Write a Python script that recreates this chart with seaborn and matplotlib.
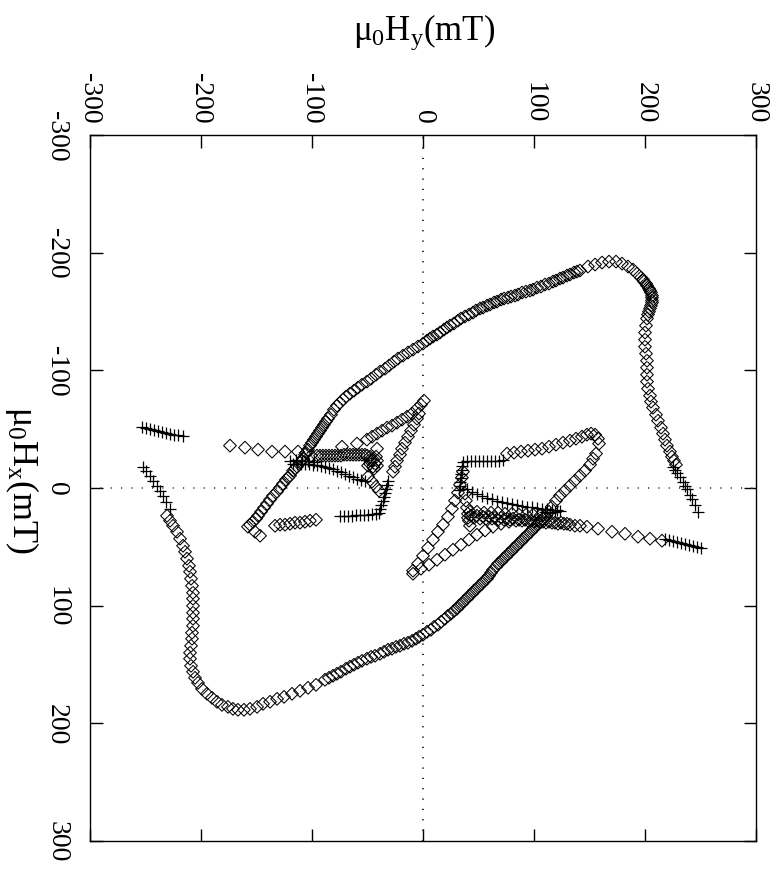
import matplotlib
matplotlib.use("Agg")
import matplotlib.pyplot as plt
import numpy as np
import pandas as pd
import seaborn as sns

# ---------------- data (mT): Hy = horizontal (top axis), Hx = vertical (left axis) --------------
# large upper arc (diamonds)
arc_up_hy = [-157.7,-155.9,-153.2,-150.4,-148.6,-145.9,-143.2,-140.5,-137.8,-135.1,
             -131.5,-128.8,-126.1,-123.4,-119.8,-117.1,-113.5,-110.8,-108.1,-105.4,
             -101.8,-98.2,-94.6,-91.0,-87.4,-82.9,-77.5,-72.1,-65.8,-58.6,
             -50.5,-42.3,-34.2,-26.1,-18.0,-9.0,0.0,6.3,12.6,18.9,
             24.3,31.5,37.8,45.0,51.4,57.7,64.0,70.3,76.6,82.9,
             89.2,96.4,102.7,109.9,117.1,123.4,129.7,136.0,141.4,
             148.6,155.0,161.3,167.6,173.9,179.3,184.7,189.2,192.8,196.4,199.1,201.8,204.5,206.3,206.3,205.4,203.6,201.8,
             200.9,200.0,200.0,200.0,200.9,201.8,201.8,201.8,201.8,202.7,204.5,205.4,207.2,209.9,211.7,214.4,216.2,218.0,219.8,222.5,224.3,226.1,227.9]
arc_up_hx = [32.9,31.2,28.7,26.1,23.6,20.2,16.8,13.4,9.9,6.5,
             3.1,-0.3,-3.7,-7.1,-10.5,-14.7,-18.1,-21.5,-24.9,-30.0,
             -36.0,-41.1,-46.2,-51.3,-56.4,-62.3,-70.0,-75.1,-80.2,-85.3,
             -90.4,-96.3,-101.4,-107.4,-112.5,-117.6,-122.7,-127.0,-130.4,-134.6,
             -138.0,-142.3,-145.7,-149.1,-152.5,-155.0,-157.6,-160.1,-161.8,-163.5,
             -166.1,-167.8,-170.3,-172.9,-175.4,-178.0,-180.5,-183.1,-184.8,
             -188.2,-189.9,-191.6,-192.4,-192.4,-190.7,-188.2,-185.6,-182.2,-178.8,-175.4,-172.0,-167.8,-163.5,-159.3,-155.0,-149.9,-144.0,
             -138.0,-132.1,-126.1,-120.1,-114.2,-108.2,-102.3,-96.3,-90.4,-84.4,-78.5,-73.4,-68.3,-62.3,-57.2,-51.3,-46.2,-41.1,-36.0,-30.9,-26.6,-23.2,-19.8]
# further markers read in the dense (dark) stretches of the upper arc
arc_up_dense_hy = [-85.6,-80.2,-74.8,-69.4,-62.2,-55.0,-46.8,-38.7,-30.6,-22.5,-13.5,-4.5,3.6,9.0,15.3,21.6,27.9,
                   34.2,41.4,47.7,54.1,60.4,66.7,73.0,79.3,85.6,92.8,99.1,106.3,113.5,119.8,126.1,132.4,138.7,
                   -121.6,-115.3,-109.0,-103.6,-100.0,-96.4,-92.8,-89.2,
                   198.2,200.9,203.6,205.4,206.3,206.3,204.5,202.7]
arc_up_dense_hx = [-58.9,-66.6,-72.5,-77.6,-82.7,-87.8,-92.9,-98.9,-104.0,-110.0,-115.1,-120.2,-125.3,-128.7,-132.1,-136.4,-139.8,
                   -144.0,-147.4,-150.8,-153.3,-155.9,-158.4,-161.0,-162.7,-164.4,-166.9,-168.6,-171.2,-173.7,-176.3,-178.8,-181.4,-183.9,
                   -8.8,-16.4,-23.2,-32.6,-38.5,-43.6,-48.7,-53.8,
                   -177.2,-173.8,-169.5,-166.1,-161.8,-157.6,-152.5,-147.4]

# large lower arc (diamonds)
arc_lo_hy = [155.9,153.2,150.5,145.9,141.4,136.9,132.4,127.9,123.4,119.8,
             116.2,113.5,109.9,106.3,101.8,97.3,92.8,88.3,83.8,79.3,
             74.8,70.3,65.8,61.3,57.7,53.2,48.6,44.1,39.6,35.1,
             30.6,25.2,19.8,13.5,7.2,0.0,-6.3,-13.5,-20.7,-27.9,
             -35.1,-43.2,-50.5,-58.6,-65.8,-73.9,-81.1,-88.3,-96.4,-103.6,
             -110.8,-118.0,-125.2,-131.5,-137.8,-144.1,-149.5,-155.9,-161.3,-166.7,
             -171.2,-175.7,-181.1,-185.6,-190.1,-194.6,-199.1,-202.7,-205.4,-207.2,
             -209.0,-209.9,-209.9,-209.0,-208.1,-208.1,-207.2,-207.2,-207.2,-207.2,
             -207.2,-207.2,-208.1,-209.0,-209.9,-210.8,-212.6,-214.4,-216.2,-218.9,
             -221.6,-225.2,-227.9,-230.6]
arc_lo_hx = [-29.2,-24.9,-19.8,-14.7,-10.5,-6.2,-2.0,2.3,6.5,10.8,
             15.9,20.2,24.4,28.7,32.9,37.2,41.4,45.7,49.9,54.2,
             58.4,62.7,66.9,72.0,77.1,81.4,85.6,89.9,94.1,98.4,
             102.6,106.9,111.1,116.2,120.5,124.7,128.1,131.5,134.1,136.6,
             139.2,142.6,145.1,148.5,151.9,156.2,159.6,163.0,167.3,169.8,
             172.4,174.9,177.5,179.2,181.7,183.4,186.0,187.7,188.5,188.5,
             187.7,186.0,184.3,181.7,178.3,174.9,170.7,165.6,161.3,156.2,
             151.1,145.1,140.0,134.1,128.1,123.0,117.1,111.1,106.0,100.1,
             94.1,89.0,83.1,77.1,71.2,66.1,60.1,54.2,49.1,43.1,
             37.2,32.1,27.8,23.6]
arc_lo_dense_hy = [108.1,103.6,99.1,94.6,90.1,85.6,81.1,76.6,72.1,67.6,63.1,59.5,55.0,50.5,45.9,41.4,36.9,32.4,
                   27.9,22.5,16.2,9.9,3.6,-3.6,-9.9,-17.1,-24.3,-31.5,-38.7,-46.8,-55.0,-62.2,-69.4,-77.5,-84.7]
arc_lo_dense_hx = [26.1,30.4,34.6,38.9,43.1,47.4,51.6,55.9,60.1,64.4,69.5,74.6,78.8,83.1,87.3,91.6,95.9,100.1,
                   104.4,108.6,113.7,118.0,122.2,126.5,129.9,132.4,135.0,137.5,140.9,143.5,146.9,150.2,153.6,157.9,161.3]

# upper-right inner row (diamonds)
row_ur_hy = [75.7,82.0,88.3,94.6,100.9,107.2,113.5,119.8,126.1,132.4,137.8,143.2,147.7,151.4,155.0,157.7,158.6]
row_ur_hx = [-29.2,-30.0,-30.9,-31.7,-32.6,-33.4,-35.1,-36.8,-38.5,-40.2,-41.9,-43.6,-45.3,-46.2,-45.3,-41.9,-37.7]

# short diamond rows near the plus tails
row_lr_hy = [141.4,147.7,157.7,170.3,182.0,193.7,204.5,215.3]
row_lr_hx = [32.1,32.9,34.6,37.2,38.9,41.4,43.1,44.8]
row_ul_hy = [-173.9,-160.4,-148.6,-136.0,-124.3,-112.6]
row_ul_hx = [-36.0,-34.3,-32.6,-30.9,-30.9,-30.9]

# left-centre structures (diamonds)
ctr_l_row_hy = [-106.3,-100.9,-95.5,-90.1,-84.7,-79.3,-73.9,-68.5,-63.1,-57.7,-52.3,-47.7,-45.0,-43.2,-45.0,-47.7,-45.9,-73.0,-59.5,-41.4,
                -92.8,-87.4,-82.0,-76.6,-71.2,-65.8,-60.4,-55.0,-50.5,
                -42.3,-41.4,-41.4,-44.1,-47.7,-49.5]
ctr_l_row_hx = [-28.3,-27.5,-27.5,-27.5,-27.5,-27.5,-27.5,-28.3,-28.3,-28.3,-28.3,-26.6,-24.1,-20.7,-18.1,-20.7,-23.2,-35.1,-37.7,-33.4,
                -27.5,-27.5,-27.5,-27.5,-28.3,-28.3,-28.3,-28.3,-27.5,
                -26.6,-23.2,-19.0,-16.4,-23.2,-19.0]
v_l_a_hy = [-50.5,-45.9,-41.4,-36.9,-32.4,-27.9,-23.4,-18.9,-14.4,-9.9,-5.4,-1.8,0.9]
v_l_a_hx = [-41.1,-43.6,-46.2,-48.7,-51.3,-53.0,-55.5,-58.1,-60.6,-63.2,-67.4,-70.8,-74.2]
v_l_b_hy = [-3.6,-5.4,-8.1,-10.8,-13.5,-16.2,-18.9,-20.7,-23.4,-25.2,-27.0]
v_l_b_hx = [-63.2,-58.9,-53.8,-48.7,-43.6,-38.5,-33.4,-28.3,-23.2,-18.1,-13.9]
tail_l_hy = [-49.5,-45.9,-42.3,-39.6]
tail_l_hx = [-9.6,-5.4,-1.1,2.3]
row_ll_hy = [-133.3,-128.8,-124.3,-119.8,-115.3,-110.8,-106.3,-101.8,-96.4,-151.4,-146.8]
row_ll_hx = [32.1,31.2,31.2,30.4,29.5,29.5,28.7,27.8,27.0,37.2,40.6]

# right-centre structures (diamonds)
band_a_hy = [40.5,45.9,51.4,56.8,62.2,67.6,73.0,78.4,83.8,89.2,94.6,100.0,105.4,110.8,116.2,121.6,127.0,132.4,136.9]
band_a_hx = [25.3,25.3,26.1,26.1,26.1,27.0,27.0,27.0,27.8,27.8,27.8,28.7,28.7,29.5,29.5,30.4,30.4,31.2,32.1]
band_b_hy = [42.3,48.6,55.0,61.3,67.6,73.9,80.2,86.5,92.8,99.1,105.4]
band_b_hx = [20.2,20.2,21.0,21.0,21.0,21.9,21.9,22.7,22.7,22.7,23.6]
band_c_hy = [43.2,48.6,54.1,59.5,64.9,70.3,75.7,81.1,86.5,91.9,97.3,102.7,108.1,113.5,118.9,124.3,129.7]
band_c_hx = [23.6,23.6,24.4,24.4,25.3,25.3,26.1,26.1,27.0,27.0,27.8,27.8,28.7,28.7,29.5,29.5,30.4]
band_v_hy = [37.8,38.7,39.6,40.5,41.4,42.3]
band_v_hx = [4.8,10.8,16.7,21.9,27.8,32.1]
v_r_a_hy = [-9.0,-1.8,5.4,12.6,19.8,27.0,34.2,41.4,48.6,55.9,63.1,70.3,77.5]
v_r_a_hx = [72.9,68.6,65.2,61.0,56.7,52.5,48.2,43.9,39.7,36.1,32.9,30.4,28.7]
v_r_b_hy = [-9.0,-4.5,0.0,4.5,9.0,13.5,18.0,22.5,26.1,28.8,31.5,33.3,35.1,36.0]
v_r_b_hx = [70.3,64.3,57.6,50.8,44.0,37.2,31.2,24.4,17.6,10.8,4.0,-2.8,-8.8,-13.9]

# plus-marker series
plus_ur_hy = [225.2,227.0,228.8,231.5,234.2,236.0,237.8,240.5,242.3,245.0,247.7]
plus_ur_hx = [-18.1,-15.6,-13.0,-9.6,-5.4,-2.0,0.6,5.7,9.1,14.2,20.2]
plus_ll_hy = [-252.3,-249.5,-245.9,-243.2,-239.6,-236.9,-234.2,-231.5,-227.9]
plus_ll_hx = [-18.1,-14.7,-10.5,-6.2,-2.0,2.3,6.5,11.6,17.6]
plus_ul_hy = [-253.2,-249.5,-245.9,-242.3,-238.7,-235.1,-231.5,-227.9,-224.3,-220.7,-216.2]
plus_ul_hx = [-52.1,-51.3,-50.4,-49.6,-48.7,-47.9,-47.0,-46.2,-45.3,-45.3,-44.5]
plus_lr_hy = [218.0,221.6,225.2,228.8,232.4,236.0,239.6,243.2,246.8,250.4]
plus_lr_hx = [43.1,44.0,44.8,45.7,46.5,47.4,48.2,49.1,49.9,50.8]
plus_lv_hy = [-31.5,-32.4,-33.3,-34.2,-35.1,-36.0,-37.8,-38.7,-39.6,
              -74.8,-71.2,-67.6,-64.0,-60.4,-56.8,-53.2,-49.5,-45.9,-42.3]
plus_lv_hx = [-6.2,-2.8,0.6,4.0,7.4,10.8,14.2,17.6,21.0,
              23.6,23.6,23.6,23.6,22.7,22.7,22.7,22.7,21.9,21.9]
plus_lc_hy = [-117.1,-113.5,-109.9,-106.3,-102.7,-99.1,-95.5,-91.9,-88.3,-84.7,-81.1,-77.5,-73.9,-70.3,-66.7,-63.1,-59.5,-55.9,-52.3,
              -119.8,-114.4,-109.0,-103.6,-98.2]
plus_lc_hx = [-20.7,-20.7,-20.7,-20.7,-20.7,-19.8,-19.8,-19.0,-18.1,-17.3,-16.4,-14.7,-13.9,-12.2,-10.5,-9.6,-7.9,-7.1,-6.2,
              -23.2,-24.1,-23.2,-23.2,-22.4]
plus_rv_hy = [36.0,35.1,35.1,34.2,34.2,33.3,33.3,32.4,
              39.6,43.2,46.8,50.5,54.1,57.7,61.3,64.9,68.5,72.1]
plus_rv_hx = [-22.4,-19.0,-15.6,-12.2,-8.8,-5.4,-2.0,1.4,
              -23.2,-23.2,-23.2,-23.2,-23.2,-23.2,-23.2,-23.2,-23.2,-24.1]
plus_rc_hy = [39.6,44.1,48.6,53.2,57.7,62.2,66.7,71.2,75.7,80.2,84.7,89.2,93.7,98.2,102.7,107.2,111.7,116.2,120.7,
              109.9,114.4,118.9,123.4]
plus_rc_hx = [0.6,3.1,4.8,6.5,8.2,9.1,10.8,11.6,12.5,13.3,14.2,15.0,15.9,15.9,16.7,17.6,17.6,18.4,18.4,
              20.2,21.0,20.2,19.3]

hy_ticks = [-300, -200, -100, 0, 100, 200, 300]
hx_ticks = [-300, -200, -100, 0, 100, 200, 300]
hy_ticklabels = ["-300", "-200", "-100", "0", "100", "200", "300"]
hx_ticklabels = ["-300", "-200", "-100", "0", "100", "200", "300"]

# ---------------- assemble ----------------
diamond_sets = [(arc_up_hy, arc_up_hx), (arc_up_dense_hy, arc_up_dense_hx),
                (arc_lo_hy, arc_lo_hx), (arc_lo_dense_hy, arc_lo_dense_hx), (row_ur_hy, row_ur_hx),
                (row_lr_hy, row_lr_hx), (row_ul_hy, row_ul_hx), (ctr_l_row_hy, ctr_l_row_hx),
                (v_l_a_hy, v_l_a_hx), (v_l_b_hy, v_l_b_hx), (tail_l_hy, tail_l_hx),
                (row_ll_hy, row_ll_hx), (band_a_hy, band_a_hx), (band_b_hy, band_b_hx),
                (band_c_hy, band_c_hx), (band_v_hy, band_v_hx), (v_r_a_hy, v_r_a_hx), (v_r_b_hy, v_r_b_hx)]
plus_sets = [(plus_ur_hy, plus_ur_hx), (plus_ll_hy, plus_ll_hx), (plus_ul_hy, plus_ul_hx),
             (plus_lr_hy, plus_lr_hx), (plus_lv_hy, plus_lv_hx), (plus_lc_hy, plus_lc_hx),
             (plus_rv_hy, plus_rv_hx), (plus_rc_hy, plus_rc_hx)]

dia = pd.concat([pd.DataFrame({"Hy": a, "Hx": b}) for a, b in diamond_sets], ignore_index=True)
pls = pd.concat([pd.DataFrame({"Hy": a, "Hx": b}) for a, b in plus_sets], ignore_index=True)

sns.set_theme(style="white")
plt.rcParams["font.family"] = ["Liberation Serif", "DejaVu Serif"]
plt.rcParams["mathtext.fontset"] = "custom"
plt.rcParams["mathtext.rm"] = "Liberation Serif"
plt.rcParams["mathtext.it"] = "Liberation Serif"
plt.rcParams["text.color"] = "black"
plt.rcParams["xtick.color"] = "black"
plt.rcParams["ytick.color"] = "black"
plt.rcParams["xtick.labelcolor"] = "black"
plt.rcParams["ytick.labelcolor"] = "black"
plt.rcParams["axes.labelcolor"] = "black"

fig = plt.figure(figsize=(7.77, 8.70), dpi=100)
ax = fig.add_axes([90/777, 1-842/870, (756-90)/777, (842-136)/870])

ax.axhline(0, color="0.25", lw=1.2, ls=(0, (0.7, 5.5)), zorder=1)
ax.axvline(0, color="black", lw=1.2, ls=(0, (0.7, 5.5)), zorder=1)

sns.scatterplot(data=dia, x="Hy", y="Hx", marker="D", s=42, color="black",
                facecolor="none", edgecolor="black", linewidth=0.75, ax=ax, legend=False, zorder=2)
sns.scatterplot(data=dia, x="Hy", y="Hx", marker=".", s=1.2, color="black",
                linewidth=0, ax=ax, legend=False, zorder=2)
sns.scatterplot(data=pls, x="Hy", y="Hx", marker="+", s=85, color="black",
                linewidth=0.9, ax=ax, legend=False, zorder=3)

ax.set_xlim(-300, 300)
ax.set_ylim(300, -300)
ax.set_xticks(hy_ticks)
ax.set_xticklabels(hy_ticklabels, rotation=-90, fontsize=20, color="black")
ax.set_yticks(hx_ticks)
ax.set_yticklabels(hx_ticklabels, rotation=-90, fontsize=20, va="center", color="black")
ax.tick_params(direction="in", length=9, width=1, color="black",
               top=True, bottom=True, left=True, right=True,
               labeltop=True, labelbottom=False, labelleft=True, labelright=False)
ax.tick_params(axis="x", pad=9)
ax.tick_params(axis="y", pad=15)
for sp in ax.spines.values():
    sp.set_color("black")
    sp.set_linewidth(1.0)

ax.set_xlabel("")
ax.set_ylabel("")
fig.text(424/777, 1-32/870, r"μ$_{\mathrm{0}}$H$_{\mathrm{y}}$(mT)", ha="center", va="center",
         fontsize=25, color="black")
fig.text(22/777, 1-480/870, r"μ$_{\mathrm{0}}$H$_{\mathrm{x}}$(mT)", ha="center", va="center",
         fontsize=26, rotation=-90, color="black")

fig.savefig("out.png", dpi=100, facecolor="white")
